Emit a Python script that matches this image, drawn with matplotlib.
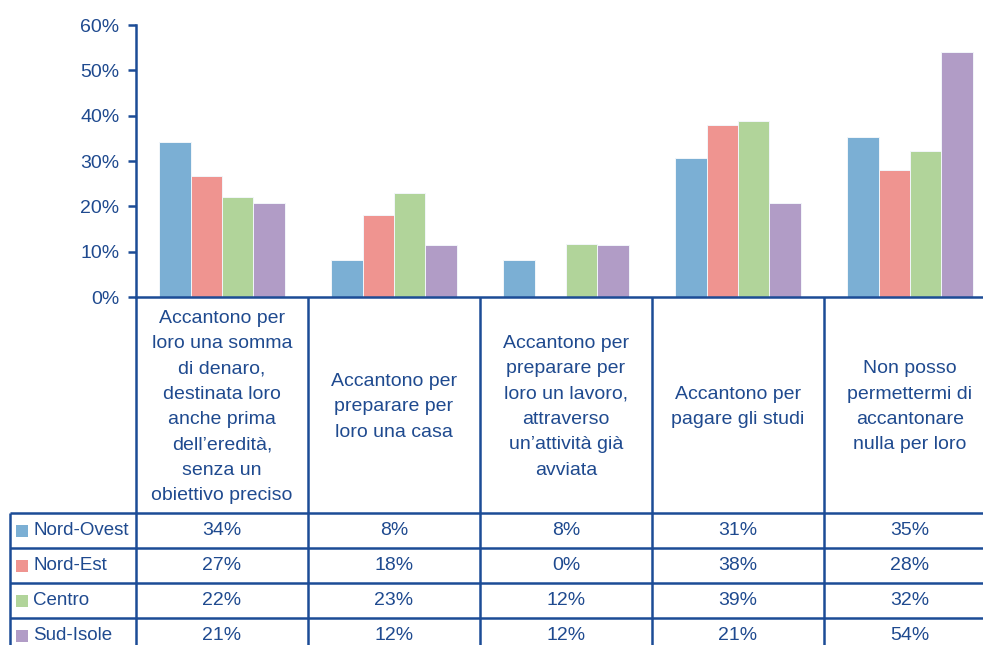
import numpy as np
import matplotlib.pyplot as plt
from matplotlib.ticker import PercentFormatter

plt.rcParams['font.family'] = ['Liberation Sans', 'DejaVu Sans']

categories = [
    "Accantono per\nloro una somma\ndi denaro,\ndestinata loro\nanche prima\ndell\u2019eredit\u00e0,\nsenza un\nobiettivo preciso",
    "Accantono per\npreparare per\nloro una casa",
    "Accantono per\npreparare per\nloro un lavoro,\nattraverso\nun\u2019attivit\u00e0 gi\u00e0\navviata",
    "Accantono per\npagare gli studi",
    "Non posso\npermettermi di\naccantonare\nnulla per loro",
]
regions = ["Nord-Ovest", "Nord-Est", "Centro", "Sud-Isole"]
nord_ovest = [34.1, 8.2, 8.2, 30.6, 35.2]
nord_est = [26.6, 18.1, 0.0, 38.0, 28.1]
centro = [22.0, 23.0, 11.8, 38.8, 32.3]
sud_isole = [20.8, 11.5, 11.5, 20.8, 54.1]
series = [nord_ovest, nord_est, centro, sud_isole]
colors = ["#7BAFD4", "#EF9490", "#B1D49A", "#B19CC6"]

navy = "#1C4C96"
txt = "#1F4A8F"

W, H = 983, 645
fig = plt.figure(figsize=(W / 100, H / 100), dpi=100)

# chart area in pixel terms
x0, x_right = 136, 996
y_top, y_zero = 25, 297
ax = fig.add_axes([x0 / W, 1 - y_zero / H, (x_right - x0) / W, (y_zero - y_top) / H])

n = len(categories)
bw = 0.182
idx = np.arange(n)
for k, (vals, c) in enumerate(zip(series, colors)):
    ax.bar(idx + 0.5 + (k - 1.5) * bw, vals, width=bw, color=c,
           edgecolor="#F2F6FA", linewidth=0.7, zorder=2)

ax.set_xlim(0, n)
ax.set_ylim(0, 60)
ax.set_yticks(np.arange(0, 61, 10))
ax.yaxis.set_major_formatter(PercentFormatter(decimals=0))
ax.set_xticks([])
for s in ["top", "right"]:
    ax.spines[s].set_visible(False)
for s in ["left", "bottom"]:
    ax.spines[s].set_color(navy)
    ax.spines[s].set_linewidth(1.8)
ax.tick_params(axis="y", colors=navy, labelcolor=txt, labelsize=14,
               length=6, width=1.8, direction="out", pad=6)

# data table underneath
tx0 = 10
row_h = 35
header_h = 513 - y_zero
left_units = (x0 - tx0) / ((x_right - x0) / n)
tab = fig.add_axes([tx0 / W, 0, (x_right - tx0) / W, 1 - y_zero / H])
tab.set_xlim(-left_units, n)
tab.set_ylim(-(H - y_zero) / row_h, 0)
tab.axis("off")

hdr = -header_h / row_h
nrows = len(regions)
lk = dict(color=navy, lw=1.8, solid_capstyle="butt", clip_on=False)
for i in range(n + 1):
    tab.plot([i, i], [0, hdr - nrows], **lk)
tab.plot([-left_units, -left_units], [hdr, hdr - nrows], **lk)
for r in range(nrows + 1):
    tab.plot([-left_units, n], [hdr - r, hdr - r], **lk)

for i, cat in enumerate(categories):
    tab.text(i + 0.5, hdr / 2 - 0.05, cat, ha="center", va="center", fontsize=14,
             color=txt, linespacing=1.64)

for r, (name, vals, c) in enumerate(zip(regions, series, colors)):
    yc = hdr - r - 0.5
    tab.scatter([-left_units + 0.07], [yc], marker="s", s=85, color=c,
                linewidths=0, clip_on=False)
    tab.text(-left_units + 0.135, yc, name, ha="left", va="center",
             fontsize=13.5, color=txt)
    for i, v in enumerate(vals):
        tab.text(i + 0.5, yc, f"{v:.0f}%", ha="center", va="center",
                 fontsize=14, color=txt)

fig.savefig("out.png", dpi=100)
